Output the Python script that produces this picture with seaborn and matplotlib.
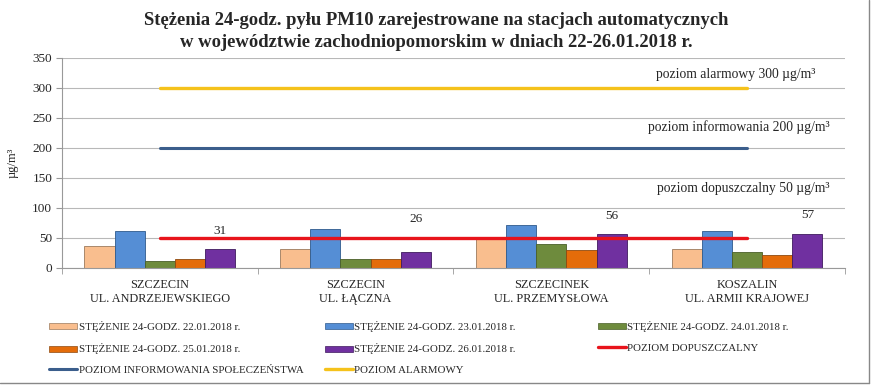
import numpy as np
import pandas as pd
import matplotlib.pyplot as plt
import seaborn as sns
from matplotlib.lines import Line2D
from matplotlib.patches import Patch

# -----------------------------------------
# 1. DATA
# -----------------------------------------

stations = ["SZCZECIN\nUL. ANDRZEJEWSKIEGO", "SZCZECIN\nUL. ŁĄCZNA",
            "SZCZECINEK\nUL. PRZEMYSŁOWA", "KOSZALIN\nUL. ARMII KRAJOWEJ"]
days = ["STĘŻENIE 24-GODZ. 22.01.2018 r.", "STĘŻENIE 24-GODZ. 23.01.2018 r.",
        "STĘŻENIE 24-GODZ. 24.01.2018 r.", "STĘŻENIE 24-GODZ. 25.01.2018 r.",
        "STĘŻENIE 24-GODZ. 26.01.2018 r."]
day_22 = [37, 32, 51, 32]
day_23 = [62, 64, 72, 61]
day_24 = [12, 15, 40, 27]
day_25 = [15, 15, 30, 22]
day_26 = [31, 26, 56, 57]

limit_dop = [50, 50, 50, 50]
limit_info = [200, 200, 200, 200]
limit_alarm = [300, 300, 300, 300]

bar_colors = ["#F9BE8E", "#558ED5", "#6E8B3D", "#E46C0A", "#7030A0"]
edge_colors = ["#9C7A5C", "#2F5A8C", "#4A5F28", "#8E4A10", "#3F1A5E"]

df = pd.DataFrame({
    "station": stations * 5,
    "day": np.repeat(days, len(stations)),
    "value": day_22 + day_23 + day_24 + day_25 + day_26,
})

# -----------------------------------------
# 2. PLOT
# -----------------------------------------

sns.set_style("white")
plt.rcParams["font.family"] = ["Liberation Serif", "DejaVu Serif"]

fig = plt.figure(figsize=(8.72, 3.86), dpi=100)
ax = fig.add_axes([0.071, 0.306, 0.898, 0.544])

sns.barplot(data=df, x="station", y="value", hue="day", palette=bar_colors,
            width=0.77, gap=0, saturation=1, legend=False, ax=ax)
for i, container in enumerate(ax.containers):
    for bar in container:
        bar.set_edgecolor(edge_colors[i])
        bar.set_linewidth(0.6)
        bar.set_zorder(2)

pos = np.arange(len(stations))
ax.plot(pos, limit_dop, color="#E8141B", lw=2.4, zorder=3)
ax.plot(pos, limit_info, color="#3B5E8C", lw=2.2, zorder=3)
ax.plot(pos, limit_alarm, color="#F5C21B", lw=2.4, zorder=3)

# value labels above the 26.01 bars (second one lifted off the red line)
label_offsets = [9, 20, 9, 9]
for bar, v, off in zip(ax.containers[4], day_26, label_offsets):
    ax.annotate(str(v), (bar.get_x() + bar.get_width() / 2, v),
                xytext=(0, off), textcoords="offset points",
                ha="center", va="bottom", fontsize=9.5)

ax.text(3.35, 322, "poziom alarmowy 300 µg/m³", ha="right", va="center", fontsize=9.8)
ax.text(3.42, 234, "poziom informowania 200 µg/m³", ha="right", va="center", fontsize=9.8)
ax.text(3.42, 133, "poziom dopuszczalny 50 µg/m³", ha="right", va="center", fontsize=9.8)

ax.set_xlim(-0.5, 3.5)
ax.set_ylim(0, 350)
ax.set_yticks(range(0, 351, 50))
ax.yaxis.grid(True, color="#B8B8B8", lw=0.8)
ax.set_axisbelow(True)
ax.set_xlabel("")
ax.set_ylabel("µg/m³", fontsize=9, labelpad=10)
ax.tick_params(axis="y", labelsize=9.5, length=4, color="#999999", pad=3, left=True)
ax.tick_params(axis="x", labelsize=8.8, length=0, pad=8)
ax.set_xticks(np.arange(-0.5, 3.6, 1), minor=True)
ax.tick_params(axis="x", which="minor", length=4, color="#999999", bottom=True)
for s in ["top", "right"]:
    ax.spines[s].set_visible(False)
for s in ["left", "bottom"]:
    ax.spines[s].set_color("#999999")
    ax.spines[s].set_linewidth(0.8)

fig.text(0.5, 0.968,
         "Stężenia 24-godz. pyłu PM10 zarejestrowane na stacjach automatycznych\n"
         "w województwie zachodniopomorskim w dniach 22-26.01.2018 r.",
         ha="center", va="top", fontsize=13.4, fontweight="bold", linespacing=1.38)

# legend: three separate columns
bar_h = [Patch(facecolor=c, edgecolor=e, lw=0.5) for c, e in zip(bar_colors, edge_colors)]
line_h = [Line2D([], [], color="#E8141B", lw=2.4),
          Line2D([], [], color="#3B5E8C", lw=2.2),
          Line2D([], [], color="#F5C21B", lw=2.4)]
line_labels = ["POZIOM DOPUSZCZALNY", "POZIOM INFORMOWANIA SPOŁECZEŃSTWA", "POZIOM ALARMOWY"]
cols = [
    ([bar_h[0], bar_h[3], line_h[1]], [days[0], days[3], line_labels[1]], 0.05),
    ([bar_h[1], bar_h[4], line_h[2]], [days[1], days[4], line_labels[2]], 0.366),
    ([bar_h[2], line_h[0]], [days[2], line_labels[0]], 0.679),
]
for handles, labels, x in cols:
    fig.legend(handles, labels, loc="upper left", bbox_to_anchor=(x, 0.182),
               frameon=False, fontsize=7.8, handlelength=2.6, handleheight=0.5,
               handletextpad=0.15, labelspacing=1.05, borderpad=0)

# chart border (right and bottom edges)
fig.add_artist(Line2D([0.9966, 0.9966], [0.008, 1.0], color="#888888", lw=1))
fig.add_artist(Line2D([0.0, 0.9966], [0.008, 0.008], color="#888888", lw=1))

plt.savefig("out.png", dpi=100)
